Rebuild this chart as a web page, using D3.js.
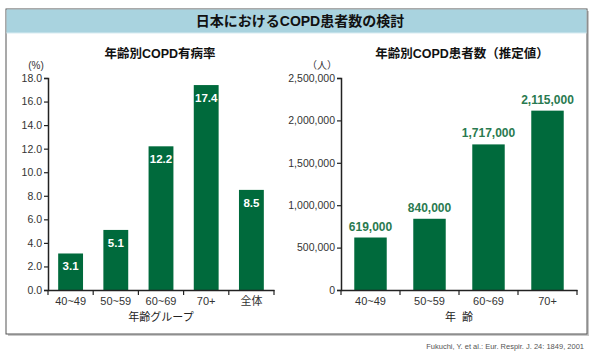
<!DOCTYPE html>
<html><head><meta charset="utf-8">
<script src="https://cdn.jsdelivr.net/npm/d3@7"></script>
<style>body{margin:0;background:#fff}svg{display:block}</style>
</head><body>
<script>
const leftCategories = ["40~49","50~59","60~69","70+","全体"];
const leftValues = [3.1, 5.1, 12.2, 17.4, 8.5];
const leftTicks = [0,2,4,6,8,10,12,14,16,18];
const rightCategories = ["40~49","50~59","60~69","70+"];
const rightValues = [619000, 840000, 1717000, 2115000];
const rightTicks = [0,500000,1000000,1500000,2000000,2500000];

const W=601,H=358;
const font = "'Liberation Sans','Noto Sans CJK JP',Arial,sans-serif";
const green="#006a3c";
const svg=d3.select("body").append("svg").attr("width",W).attr("height",H).style("font-family",font);

// frame shadow
svg.append("rect").attr("x",8).attr("y",11).attr("width",581).attr("height",325).attr("fill","#c8c8c8");
svg.append("rect").attr("x",6).attr("y",9).attr("width",581).attr("height",325).attr("fill","#fff").attr("stroke","#555").attr("stroke-width",1);
svg.append("rect").attr("x",6.5).attr("y",9.5).attr("width",580).attr("height",23.5).attr("fill","#a9d3df");
svg.append("line").attr("x1",6.5).attr("x2",586.5).attr("y1",33).attr("y2",33).attr("stroke","#d8ecf2").attr("stroke-width",1);
svg.append("text").attr("x",300).attr("y",26).attr("text-anchor","middle").attr("font-size",14).attr("font-weight","bold").attr("fill","#111").text("日本におけるCOPD患者数の検討");

function panel(cfg){
  const g=svg.append("g");
  const x=d3.scaleBand().domain(cfg.cats).range([cfg.x0,cfg.x1]).paddingInner(0.45).paddingOuter(0.225);
  const y=d3.scaleLinear().domain([cfg.ticks[0],cfg.ticks[cfg.ticks.length-1]]).range([cfg.y0,cfg.yTop]);
  g.selectAll("rect.bar").data(cfg.vals).join("rect").attr("class","bar")
    .attr("x",(d,i)=>x(cfg.cats[i])).attr("width",x.bandwidth())
    .attr("y",d=>y(d)).attr("height",d=>cfg.y0-y(d)).attr("fill",green);
  // y axis
  const ya=g.append("g").attr("transform",`translate(${cfg.x0},0)`)
    .call(d3.axisLeft(y).tickValues(cfg.ticks).tickFormat(cfg.fmt).tickSize(4).tickPadding(2));
  ya.select(".domain").attr("stroke","#222").attr("stroke-width",1.5);
  ya.selectAll(".tick line").attr("stroke","#222").attr("stroke-width",1.2);
  ya.selectAll("text").attr("font-size",10.5).attr("fill","#333").style("font-family",font);
  // x axis
  const xa=g.append("g").attr("transform",`translate(0,${cfg.y0})`)
    .call(d3.axisBottom(x).tickSize(0).tickPadding(7));
  xa.select(".domain").attr("stroke","#222").attr("stroke-width",1.5);
  xa.selectAll("text").attr("font-size",11).attr("fill","#333").style("font-family",font);
  // boundary ticks
  const bounds=cfg.cats.map(c=>x(c)-x.step()*x.paddingInner()/2).concat([cfg.x1]);
  bounds[0]=cfg.x0;
  g.selectAll("line.bt").data(bounds).join("line").attr("class","bt")
    .attr("x1",d=>d).attr("x2",d=>d).attr("y1",cfg.y0).attr("y2",cfg.y0+5).attr("stroke","#222").attr("stroke-width",1.2);
  // value labels
  g.selectAll("text.v").data(cfg.vals).join("text").attr("class","v")
    .attr("x",(d,i)=>x(cfg.cats[i])+x.bandwidth()/2)
    .attr("y",d=>cfg.inside? y(d)+17 : y(d)-7)
    .attr("text-anchor","middle").attr("font-size",cfg.inside?11.5:12).attr("font-weight","bold")
    .attr("fill",cfg.inside?"#fff":"#2a7a50").text(cfg.vfmt);
  g.append("text").attr("x",cfg.unitX).attr("y",69).attr("text-anchor","middle").attr("font-size",10).attr("fill","#333").text(cfg.unit);
  g.append("text").attr("x",cfg.titleX).attr("y",58).attr("text-anchor","middle").attr("font-size",12.5).attr("font-weight","bold").attr("fill","#111").text(cfg.title);
  g.append("text").attr("x",(cfg.x0+cfg.x1)/2).attr("y",321).attr("text-anchor","middle").attr("font-size",11).attr("fill","#222").attr("xml:space","preserve").text(cfg.xtitle);
}

panel({cats:leftCategories,vals:leftValues,ticks:leftTicks,x0:48,x1:274,y0:290,yTop:78,
  fmt:d3.format(".1f"),vfmt:d3.format(".1f"),inside:true,unit:"(%)",unitX:36,
  title:"年齢別COPD有病率",titleX:160,xtitle:"年齢グループ"});
panel({cats:rightCategories,vals:rightValues,ticks:rightTicks,x0:341,x1:577,y0:290,yTop:78,
  fmt:d3.format(","),vfmt:d3.format(","),inside:false,unit:"（人）",unitX:322,
  title:"年齢別COPD患者数（推定値）",titleX:462,xtitle:"年  齢"});

svg.append("text").attr("x",584).attr("y",349).attr("text-anchor","end").attr("font-size",7.5).attr("fill","#555").text("Fukuchi, Y. et al.: Eur. Respir. J. 24: 1849, 2001");
</script>
</body></html>
